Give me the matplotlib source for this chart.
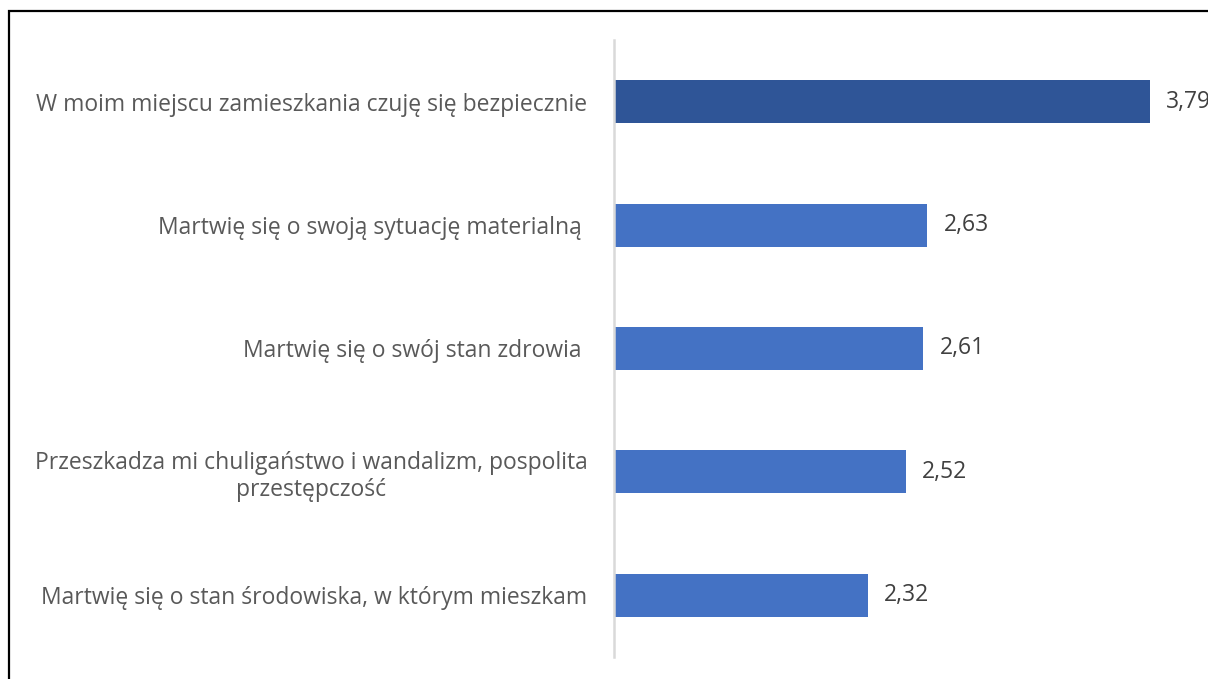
import matplotlib.pyplot as plt
from matplotlib.patches import Rectangle

# Data (mean scores, scale starts at 1)
categories = [
    'W moim miejscu zamieszkania czuję się bezpiecznie',
    'Martwię się o swoją sytuację materialną ',
    'Martwię się o swój stan zdrowia ',
    'Przeszkadza mi chuligaństwo i wandalizm, pospolita\nprzestępczość',
    'Martwię się o stan środowiska, w którym mieszkam',
]
values = [3.79, 2.63, 2.61, 2.52, 2.32]
value_labels = ['3,79', '2,63', '2,61', '2,52', '2,32']
bar_colors = ['#2F5597', '#4472C4', '#4472C4', '#4472C4', '#4472C4']

plt.rcParams['font.family'] = ['Open Sans', 'DejaVu Sans']

W, H, DPI = 1208, 679, 100
fig = plt.figure(figsize=(W / DPI, H / DPI), dpi=DPI)
fig.patch.set_facecolor('white')

# outer frame (cut off at right and bottom in the reference)
fig.add_artist(Rectangle((9 / W, -0.1), 1.2, (H - 11) / H + 0.1,
                         transform=fig.transFigure, fill=False,
                         edgecolor='black', linewidth=1.6))

ax = fig.add_axes([614 / W, 1 - 657 / H, 1 - 614 / W, (657 - 40) / H])

base = 1.0
ypos = list(range(len(categories)))
ax.barh(ypos, [v - base for v in values], left=base, height=0.35,
        color=bar_colors)

for y, v, lab in zip(ypos, values, value_labels):
    ax.text(v + 0.085, y, lab, va='center', ha='left', fontsize=16.5,
            color='#404040', clip_on=False)

ax.set_xlim(base, base + (W - 614) / 192.1)
ax.set_ylim(len(categories) - 0.5, -0.5)

ax.set_yticks(ypos)
ax.set_yticklabels(categories, fontsize=16.5, color='#595959')
for t in ax.get_yticklabels():
    t.set_multialignment('center')
    t.set_linespacing(1.15)
ax.tick_params(axis='y', length=0, pad=19)
ax.tick_params(axis='x', bottom=False, labelbottom=False)

for side in ('top', 'right', 'bottom'):
    ax.spines[side].set_visible(False)
ax.spines['left'].set_color('#D9D9D9')
ax.spines['left'].set_linewidth(1.8)

fig.savefig('out.png', dpi=DPI)
